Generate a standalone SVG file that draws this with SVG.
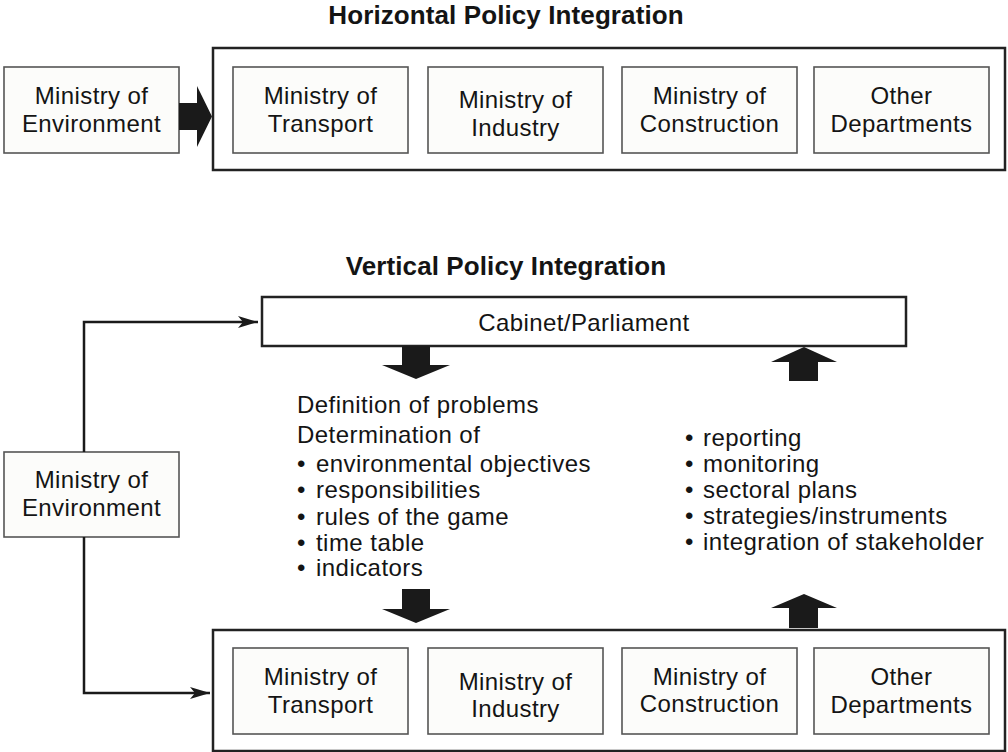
<svg xmlns="http://www.w3.org/2000/svg" width="1008" height="752" viewBox="0 0 1008 752">
<style>
text{font-family:"Liberation Sans",Arial,Helvetica,sans-serif;fill:#141414}
.t{font-size:26px;font-weight:bold;text-anchor:middle;letter-spacing:0.1px}
.b{font-size:24px;letter-spacing:0.4px;text-anchor:middle}
.l{font-size:24px;letter-spacing:0.45px}
.outer{fill:#fff;stroke:#222;stroke-width:2.5}
.box{fill:#fcfcfa;stroke:#555;stroke-width:1.6}
.conn{fill:none;stroke:#1a1a1a;stroke-width:2.5}
.big{fill:#1a1a1a}
</style>
<defs>
<marker id="ah" viewBox="0 0 20 12" refX="20" refY="6" markerWidth="20" markerHeight="12" markerUnits="userSpaceOnUse" orient="auto">
<path d="M0,0 L20,6 L0,12 L5,6 Z" fill="#1a1a1a"/>
</marker>
</defs>
<rect width="1008" height="752" fill="#fff"/>

<text class="t" x="506" y="24">Horizontal Policy Integration</text>
<text class="t" x="506" y="275">Vertical Policy Integration</text>

<g id="h-env"><rect class="box" x="4" y="67" width="175" height="86"/><text class="b" x="91.5" y="104">Ministry of</text><text class="b" x="91.5" y="132">Environment</text></g>
<g id="h-group"><rect class="outer" x="213" y="48" width="792" height="122"/></g>
<g id="h-transport"><rect class="box" x="233" y="67" width="175" height="86"/><text class="b" x="320.5" y="104">Ministry of</text><text class="b" x="320.5" y="132">Transport</text></g>
<g id="h-industry"><rect class="box" x="428" y="67" width="175" height="86"/><text class="b" x="515.5" y="108">Ministry of</text><text class="b" x="515.5" y="136">Industry</text></g>
<g id="h-construction"><rect class="box" x="622" y="67" width="175" height="86"/><text class="b" x="709.5" y="104">Ministry of</text><text class="b" x="709.5" y="132">Construction</text></g>
<g id="h-other"><rect class="box" x="814" y="67" width="175" height="86"/><text class="b" x="901.5" y="104">Other</text><text class="b" x="901.5" y="132">Departments</text></g>

<g id="cabinet"><rect class="outer" x="262" y="297" width="644" height="49"/><text class="b" x="584" y="331">Cabinet/Parliament</text></g>

<g id="v-env"><rect class="box" x="4" y="452" width="175" height="85"/><text class="b" x="91.5" y="488">Ministry of</text><text class="b" x="91.5" y="516">Environment</text></g>

<g id="topdown-text">
<text class="l" x="297" y="413">Definition of problems</text>
<text class="l" x="297" y="443">Determination of</text>
<text class="l" y="472"><tspan x="297">•</tspan><tspan x="316">environmental objectives</tspan></text>
<text class="l" y="498"><tspan x="297">•</tspan><tspan x="316">responsibilities</tspan></text>
<text class="l" y="525"><tspan x="297">•</tspan><tspan x="316">rules of the game</tspan></text>
<text class="l" y="551"><tspan x="297">•</tspan><tspan x="316">time table</tspan></text>
<text class="l" y="576"><tspan x="297">•</tspan><tspan x="316">indicators</tspan></text>
</g>
<g id="bottomup-text">
<text class="l" y="446"><tspan x="685">•</tspan><tspan x="703">reporting</tspan></text>
<text class="l" y="472"><tspan x="685">•</tspan><tspan x="703">monitoring</tspan></text>
<text class="l" y="498"><tspan x="685">•</tspan><tspan x="703">sectoral plans</tspan></text>
<text class="l" y="524"><tspan x="685">•</tspan><tspan x="703">strategies/instruments</tspan></text>
<text class="l" y="550"><tspan x="685">•</tspan><tspan x="703">integration of stakeholder</tspan></text>
</g>

<g id="v-group"><rect class="outer" x="213" y="630" width="792" height="121"/></g>
<g id="v-transport"><rect class="box" x="233" y="648" width="175" height="86"/><text class="b" x="320.5" y="685">Ministry of</text><text class="b" x="320.5" y="713">Transport</text></g>
<g id="v-industry"><rect class="box" x="428" y="648" width="175" height="86"/><text class="b" x="515.5" y="690">Ministry of</text><text class="b" x="515.5" y="717">Industry</text></g>
<g id="v-construction"><rect class="box" x="622" y="648" width="175" height="86"/><text class="b" x="709.5" y="685">Ministry of</text><text class="b" x="709.5" y="712">Construction</text></g>
<g id="v-other"><rect class="box" x="814" y="648" width="175" height="86"/><text class="b" x="901.5" y="685">Other</text><text class="b" x="901.5" y="713">Departments</text></g>

<g id="connectors">
<path class="big" d="M179,103 L197,103 L197,86 L212,116.5 L197,147 L197,130 L179,130 Z"/>
<path class="big" d="M402,346 L430,346 L430,365 L450,365 L416,379 L382,365 L402,365 Z"/>
<path class="big" d="M402,589 L430,589 L430,609 L450,609 L416,623 L382,609 L402,609 Z"/>
<path class="big" d="M789,381 L818,381 L818,362 L837,362 L804,347 L771,362 L789,362 Z"/>
<path class="big" d="M789,628 L818,628 L818,608 L837,608 L804,594 L771,608 L789,608 Z"/>
<path class="conn" d="M84,452 L84,322 L258,322" marker-end="url(#ah)"/>
<path class="conn" d="M84,537 L84,693 L210,693" marker-end="url(#ah)"/>
</g>
</svg>
